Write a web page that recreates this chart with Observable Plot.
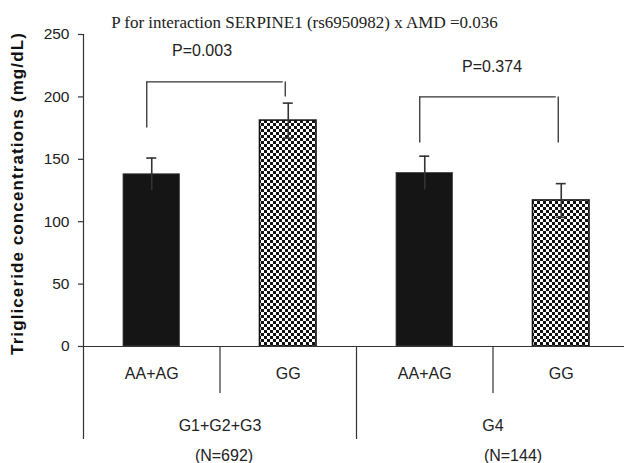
<!DOCTYPE html>
<html><head><meta charset="utf-8">
<script src="https://cdn.jsdelivr.net/npm/d3@7"></script>
<script src="https://cdn.jsdelivr.net/npm/@observablehq/plot@0.6"></script>
<style>body{margin:0;background:#fff}#chart{width:624px;height:463px}</style>
</head><body><div id="chart"></div>
<script>
const genotypes = ["AA+AG", "GG", "AA+AG", "GG"];
const means = [138, 181, 139, 117];
const errors = [13, 14, 13.5, 13.5];
const fills = ["solid", "checker", "solid", "checker"];
const groups = ["G1+G2+G3", "G4"];
const groupN = ["(N=692)", "(N=144)"];
const bracketLeft = [0, 2];
const bracketRight = [1, 3];
const bracketTop = [212, 200];
const bracketLeftEnd = [175, 163];
const bracketRightEnd = [200, 163];
const pLabels = ["P=0.003", "P=0.374"];
const yTicks = [0, 50, 100, 150, 200, 250];
const title = "P for interaction SERPINE1 (rs6950982) x AMD =0.036";
const yLabel = "Trigliceride concentrations (mg/dL)";

const bars = means.map((m, i) => ({i, genotype: genotypes[i], mean: m, err: errors[i], fill: fills[i]}));
const brackets = bracketLeft.map((l, k) => ({l, r: bracketRight[k], top: bracketTop[k], le: bracketLeftEnd[k], re: bracketRightEnd[k], p: pLabels[k]}));
const groupRows = groups.map((g, k) => ({k, g, n: groupN[k]}));

const ink = "#222";
const sans = "'Liberation Sans', Arial, Helvetica, sans-serif";
const fs = 16;

const plot = Plot.plot({
  width: 624,
  height: 463,
  marginTop: 34,
  marginBottom: 117,
  marginLeft: 83,
  marginRight: -5,
  style: {fontFamily: sans, fontSize: "16px", color: ink, background: "#fff", overflow: "visible"},
  x: {type: "linear", domain: [0, 4], axis: null},
  y: {domain: [0, 250], axis: null},
  marks: [
    // bars
    Plot.rectY(bars.filter(d => d.fill === "solid"), {x1: d => d.i, x2: d => d.i + 1, y: "mean", insetLeft: 40, insetRight: 40, fill: "#151515", stroke: "#444", strokeWidth: 0.8}),
    Plot.rectY(bars.filter(d => d.fill === "checker"), {x1: d => d.i, x2: d => d.i + 1, y: "mean", insetLeft: 40, insetRight: 40, fill: "url(#checker)", stroke: "#111", strokeWidth: 1.6}),
    // error bars
    Plot.ruleX(bars, {x: d => d.i + 0.5, y1: d => d.mean - d.err, y2: d => d.mean + d.err, stroke: "#333", strokeWidth: 1.6}),
    Plot.ruleY(bars, {x1: d => d.i + 0.5, x2: d => d.i + 0.5, y: d => d.mean + d.err, insetLeft: -5, insetRight: -5, stroke: "#333", strokeWidth: 1.6}),
    Plot.ruleY(bars.filter(d => d.fill === "checker"), {x1: d => d.i + 0.5, x2: d => d.i + 0.5, y: d => d.mean - d.err, insetLeft: -5, insetRight: -5, stroke: "#333", strokeWidth: 1.6}),
    // axes lines
    Plot.ruleY([0], {stroke: "#333", strokeWidth: 1.2}),
    Plot.ruleX([0], {stroke: "#333", strokeWidth: 1.2}),
    // category separators below axis
    Plot.ruleX([0, 2, 4], {y1: () => 0, y2: () => 0, insetBottom: -93, stroke: "#333", strokeWidth: 1.2}),
    Plot.ruleX([1, 3], {y1: () => 0, y2: () => 0, insetBottom: -47, stroke: "#333", strokeWidth: 1.2}),
    // y axis
    Plot.axisY({ticks: yTicks, tickSize: 5, tickPadding: 9, label: null, fontSize: 15.5, fill: ink, stroke: "#333", strokeWidth: 1.2}),
    // brackets
    Plot.ruleY(brackets, {x1: d => d.l + 0.5, x2: d => d.r + 0.5, y: "top", dx: -5, stroke: "#333", strokeWidth: 1.3}),
    Plot.ruleX(brackets, {x: d => d.l + 0.5, y1: "le", y2: "top", dx: -5, stroke: "#333", strokeWidth: 1.3}),
    Plot.ruleX(brackets, {x: d => d.r + 0.5, y1: "re", y2: "top", dx: -3, stroke: "#333", strokeWidth: 1.3}),
    Plot.text(brackets.slice(0, 1), {x: d => (d.l + d.r + 1) / 2, y: "top", text: "p", dx: -18, dy: -31, fontSize: fs, fill: ink}),
    Plot.text(brackets.slice(1), {x: d => (d.l + d.r + 1) / 2, y: "top", text: "p", dx: -1, dy: -30, fontSize: fs, fill: ink}),
    // category labels
    Plot.text(bars, {x: d => d.i + 0.5, y: () => 0, text: "genotype", dy: 27, fontSize: fs, fill: ink}),
    Plot.text(groupRows, {x: d => d.k * 2 + 1, y: () => 0, text: "g", dy: 79, fontSize: fs, fill: ink}),
    Plot.text(groupRows.slice(0, 1), {x: d => d.k * 2 + 1, y: () => 0, text: "n", dy: 109, dx: 4, fontSize: fs, fill: ink}),
    Plot.text(groupRows.slice(1), {x: d => d.k * 2 + 1, y: () => 0, text: "n", dy: 109, dx: 20, fontSize: fs, fill: ink}),
    // title
    Plot.text([title], {frameAnchor: "top-left", dx: 221, dy: -19, text: d => d, fontFamily: "'Liberation Serif', 'Times New Roman', serif", fontSize: 17, fill: ink, textAnchor: "middle"}),
    // y label
    Plot.text([yLabel], {frameAnchor: "left", dx: -65.5, dy: 3, text: d => d, rotate: -90, textAnchor: "middle", fontWeight: "bold", fontSize: 17, fill: "#111", className: "ylabel"})
  ]
});

// widen the y label's letter spacing to the reference's length
plot.querySelectorAll(".ylabel text").forEach(t => t.setAttribute("letter-spacing", "1.1"));

const ns = "http://www.w3.org/2000/svg";
const defs = document.createElementNS(ns, "defs");
const pat = document.createElementNS(ns, "pattern");
pat.setAttribute("id", "checker");
pat.setAttribute("patternUnits", "userSpaceOnUse");
pat.setAttribute("width", "6");
pat.setAttribute("height", "6");
const bg = document.createElementNS(ns, "rect");
bg.setAttribute("width", "6"); bg.setAttribute("height", "6"); bg.setAttribute("fill", "#fff");
pat.appendChild(bg);
for (const [px, py] of [[0, 0], [3, 3]]) {
  const r = document.createElementNS(ns, "rect");
  r.setAttribute("x", px); r.setAttribute("y", py);
  r.setAttribute("width", "3"); r.setAttribute("height", "3");
  r.setAttribute("fill", "#111");
  pat.appendChild(r);
}
defs.appendChild(pat);
plot.insertBefore(defs, plot.firstChild);
document.getElementById("chart").appendChild(plot);
</script>
</body></html>
